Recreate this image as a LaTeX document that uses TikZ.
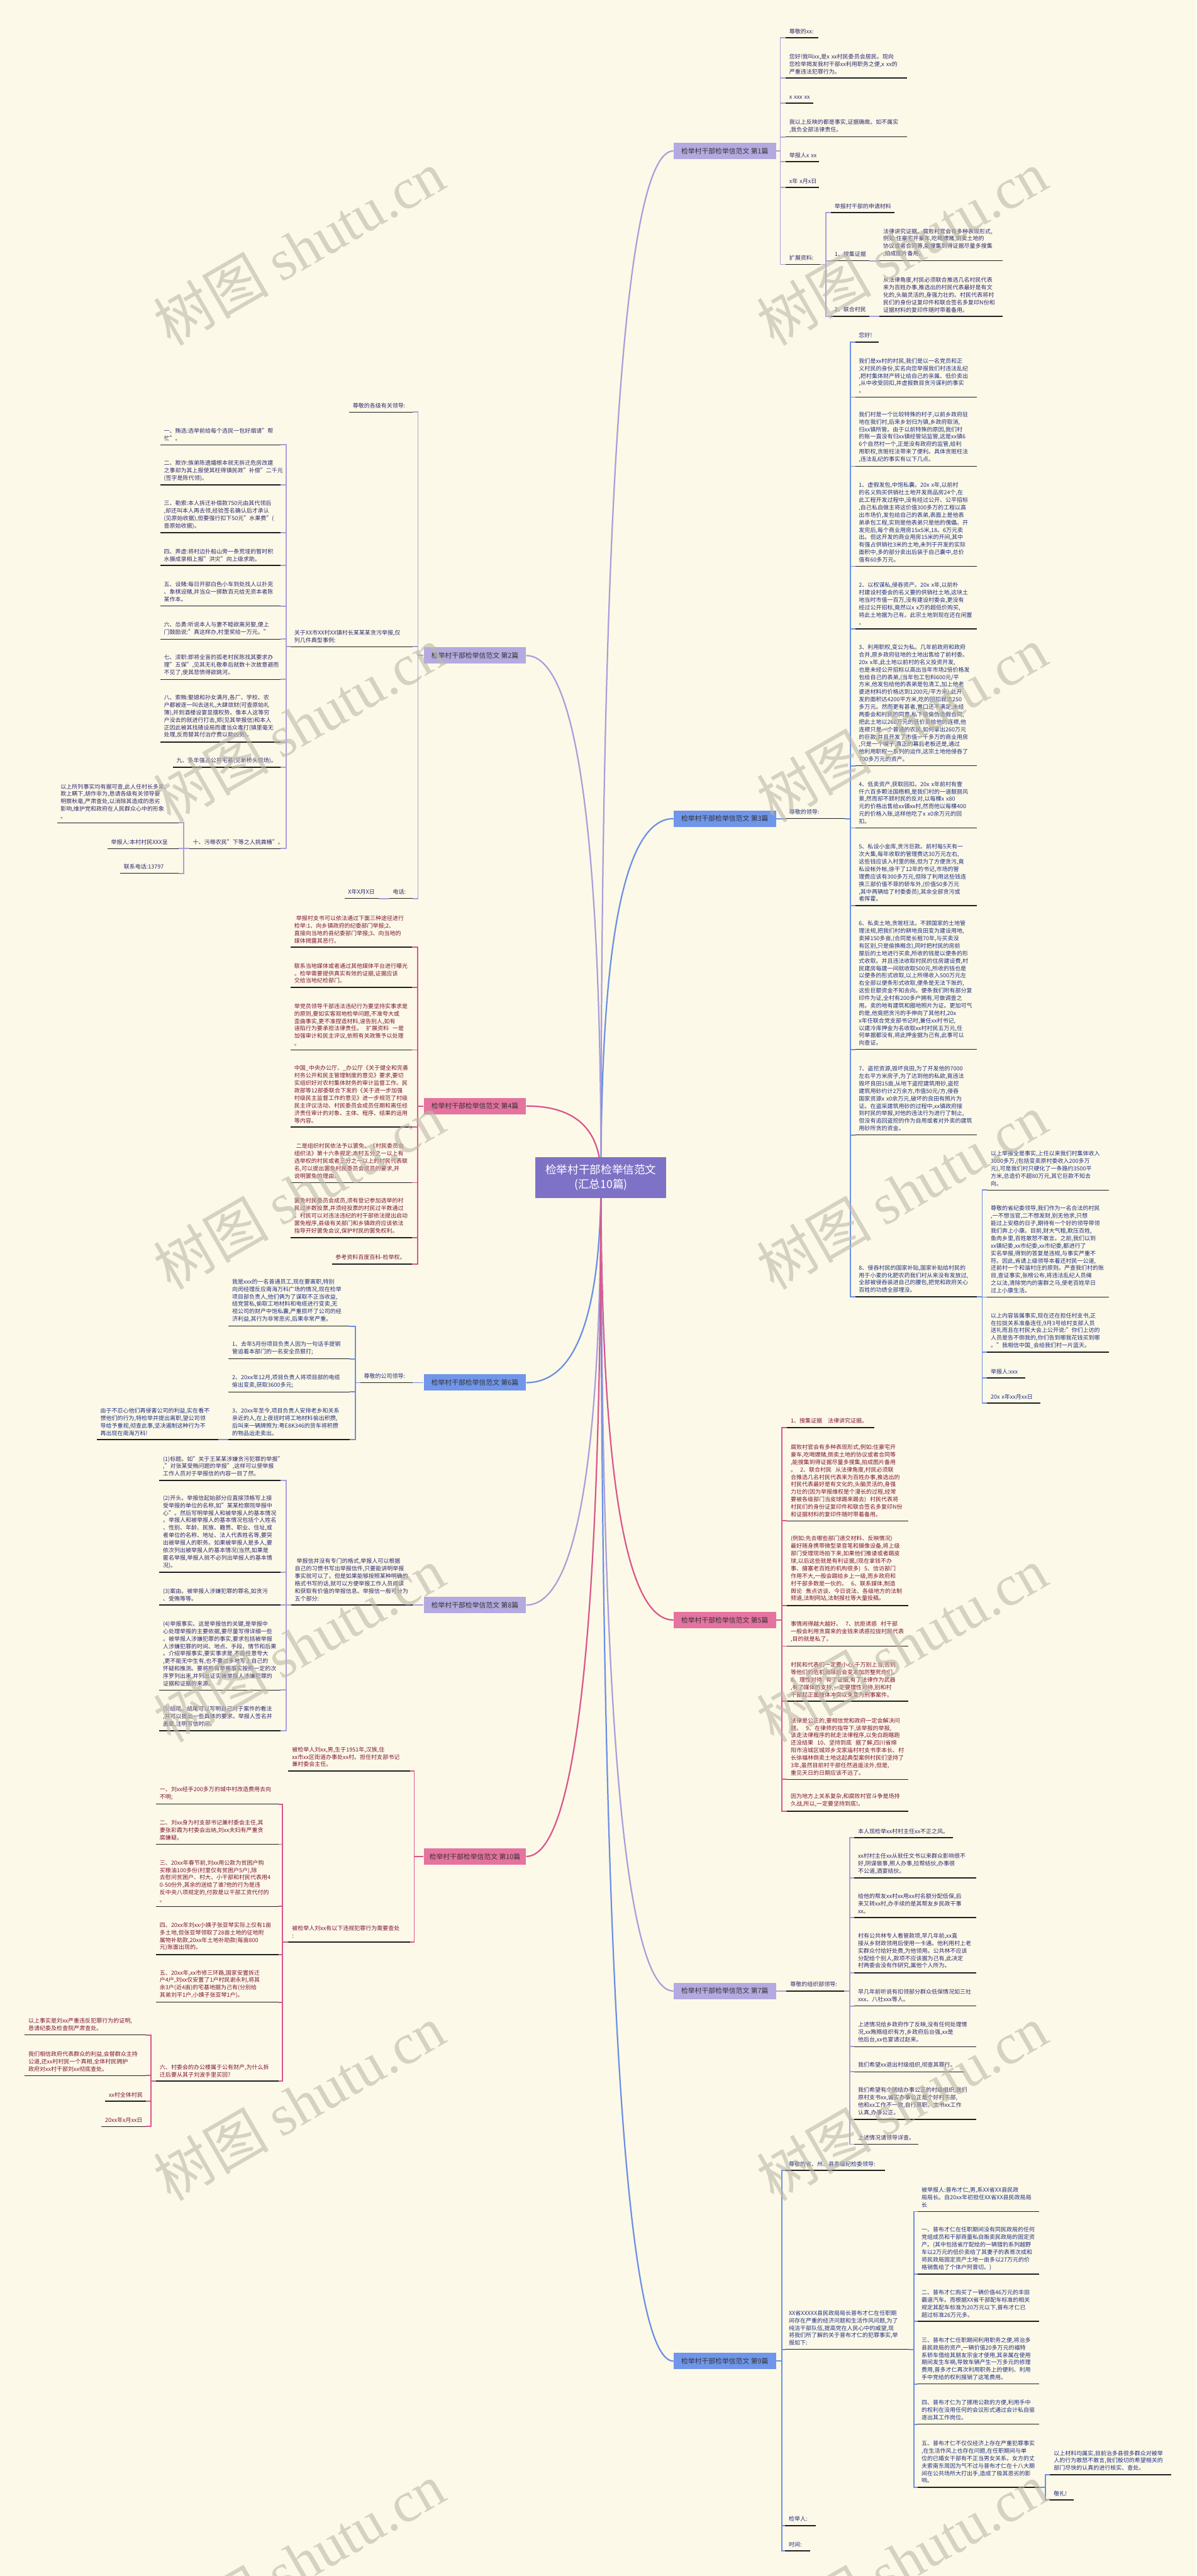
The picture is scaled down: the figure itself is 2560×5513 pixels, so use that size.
\documentclass[tikz,border=0pt]{standalone}
\usepackage{fontspec}
\setmainfont{Noto Sans CJK SC}
\newfontfamily\wmfont{Liberation Serif}
\usetikzlibrary{calc,backgrounds}

\definecolor{bgc}{HTML}{FDF9E8}
\definecolor{cpu}{HTML}{A89EDB}
\definecolor{cbl}{HTML}{6A8FE6}
\definecolor{cpk}{HTML}{D9558C}
\definecolor{fpu}{HTML}{B4AADF}
\definecolor{fbl}{HTML}{7096EA}
\definecolor{fpk}{HTML}{E5739F}
\definecolor{tpu}{HTML}{2E2A72}
\definecolor{tbl}{HTML}{1E3182}
\definecolor{tpk}{HTML}{7E1538}
\definecolor{ulc}{HTML}{1E1E1E}
\definecolor{hubc}{HTML}{7E72C6}
\definecolor{wmc}{HTML}{BDB8A8}

\tikzset{
  leaf/.style={anchor=south west, inner xsep=0.15cm, inner ysep=0.16cm, align=left,
    font=\fontsize{6.9pt}{9.1pt}\selectfont,
    append after command={(\tikzlastnode.south west) edge[uline] (\tikzlastnode.south east)}},
  uline/.style={draw=ulc, line width=0.04cm},
  lpu/.style={text=tpu}, lbl/.style={text=tbl}, lpk/.style={text=tpk},
  bpu/.style={draw=cpu, line width=0.05cm},
  bbl/.style={draw=cbl, line width=0.05cm},
  bpk/.style={draw=cpk, line width=0.05cm},
  lab/.style={minimum width=4.38cm, minimum height=0.7cm, inner sep=0pt,
    font=\fontsize{8.3pt}{10pt}\selectfont, text=black!80},
  labR/.style={lab, anchor=west}, labL/.style={lab, anchor=east},
  hubbox/.style={fill=hubc, text=white, minimum width=5.6cm, minimum height=1.76cm,
    align=center, font=\fontsize{13.5pt}{17pt}\selectfont},
  twig/.style={line width=0.06cm},
  wmark/.style={rotate=30, text=wmc, opacity=0.6, font=\fontsize{70pt}{72pt}\selectfont}
}

% leaf: style, name, x start, underline y, x end, text
\newcommand\lf[6]{\pgfmathsetmacro\lfw{(#5-#3)*0.02-0.3}%
  \node[leaf,#1,text width=\lfw cm] (#2) at (#3,#4) {#6};}
\newcommand\busR[4]{\foreach \kid in {#4}{\draw[#1] (#2) -- ++(#3,0) |- (\kid.south west);}}
\newcommand\busL[4]{\foreach \kid in {#4}{\draw[#1] (#2) -- ++(-#3,0) |- (\kid.south east);}}
\newcommand\twig[2]{\draw[twig,#1] (hub.center) .. controls ($(hub.center)!0.667!(hub.center|-#2)$)
  and ($(#2)!0.667!(hub.center|-#2)$) .. (#2);}

\begin{document}
\begin{tikzpicture}[x=0.02cm, y=-0.02cm]
  \useasboundingbox (0,0) rectangle (2560,5513);
  \begin{scope}[on background layer]
    \fill[bgc] (0,0) rectangle (2560,5513);
  \end{scope}

  % Center
  \node[hubbox] (hub) at (1286,2520) {检举村干部检举信范文\\(汇总10篇)};

  % Labels
  \node[labR, fill=fpu] (L1) at (1441,323) {检举村干部检举信范文 第1篇};
  \node[labL, fill=fpu] (L2) at (1126,1403) {检举村干部检举信范文 第2篇};
  \node[labR, fill=fbl] (L3) at (1441,1752) {检举村干部检举信范文 第3篇};
  \node[labL, fill=fpk] (L4) at (1126,2367) {检举村干部检举信范文 第4篇};
  \node[labR, fill=fpk] (L5) at (1441,3467) {检举村干部检举信范文 第5篇};
  \node[labL, fill=fbl] (L6) at (1126,2959) {检举村干部检举信范文 第6篇};
  \node[labR, fill=fpu] (L7) at (1441,4261) {检举村干部检举信范文 第7篇};
  \node[labL, fill=fpu] (L8) at (1126,3435) {检举村干部检举信范文 第8篇};
  \node[labR, fill=fbl] (L9) at (1441,5053) {检举村干部检举信范文 第9篇};
  \node[labL, fill=fpk] (L10) at (1126,3973) {检举村干部检举信范文 第10篇};

  \begin{scope}[on background layer]
    \twig{cpu}{L1.west} \twig{cbl}{L3.west} \twig{cpk}{L5.west}
    \twig{cpu}{L7.west} \twig{cbl}{L9.west}
    \twig{cpu}{L2.east} \twig{cpk}{L4.east} \twig{cbl}{L6.east}
    \twig{cpu}{L8.east} \twig{cpk}{L10.east}
  \end{scope}

  % Branch 1
  \lf{lpu}{a1}{1681}{81}{1750}{尊敬的xx:}
  \lf{lpu}{a2}{1681}{167}{1940}{您好!我叫xx,是x~xx村民委员会居民。现向\\您检举揭发我村干部xx利用职务之便,x~xx的\\严重违法犯罪行为。}
  \lf{lpu}{a3}{1681}{221}{1739}{x~xxx~xx}
  \lf{lpu}{a4}{1681}{293}{1940}{我以上反映的都是事实,证据确凿。如不属实\\,我负全部法律责任。}
  \lf{lpu}{a5}{1681}{346}{1752}{举报人x~xx}
  \lf{lpu}{a6}{1681}{401}{1752}{x年~x月x日}
  \lf{lpu}{a7}{1681}{566}{1754}{扩展资料:}
  \busR{bpu}{L1.east}{9}{a1,a2,a3,a4,a5,a6,a7}
  \lf{lpu}{a8}{1778}{455}{1913}{举报村干部的申请材料}
  \lf{lpu}{a9}{1778}{558}{1859}{1、搜集证据}
  \lf{lpu}{a10}{1778}{677}{1859}{2、联合村民}
  \busR{bpu}{a7.south east}{12}{a8,a9,a10}
  \lf{lpu}{a11}{1882}{558}{2145}{法律讲究证据。腐败村官会有多种表现形式,\\例如:住豪宅开豪车,吃喝嫖赌,倒卖土地的\\协议或者合同等,能搜集到得证据尽量多搜集\\,拍成图片备用。}
  \lf{lpu}{a12}{1882}{677}{2145}{从法律角度,村民必须联合推选几名村民代表\\来为百姓办事,推选出的村民代表最好是有文\\化的,头脑灵活的,身强力壮的。村民代表将村\\民们的身份证复印件和联合签名多复印N份和\\证据材料的复印件随时带着备用。}
  \draw[bpu] (a9.south east) -- (a11.south west);
  \draw[bpu] (a10.south east) -- (a12.south west);

  % Branch 3
  \lf{lbl}{b0}{1681}{1752}{1807}{尊敬的领导:}
  \draw[bbl] (L3.east) -- (b0.south west);
  \lf{lbl}{b1}{1830}{732}{1879}{您好!}
  \lf{lbl}{b2}{1830}{850}{2089}{我们是xx村的村民,我们是以一名党员和正\\义村民的身份,实名向您举报我们村违法乱纪\\,把村集体财产转让给自己的亲属、低价卖出\\,从中收受回扣,并虚报数目贪污谋利的事实\\。}
  \lf{lbl}{b3}{1830}{998}{2089}{我们村是一个比较特殊的村子,以前乡政府驻\\地在我们村,后来乡划归为镇,乡政府取消,\\归xx镇所管。由于以前特殊的原因,我们村\\的账一直没有归xx镇经管站监管,这是xx镇6\\6个自然村一个,正是没有政府的监管,给利\\用职权,贪赃枉法带来了便利。具体贪赃枉法\\,违法乱纪的事实有以下几点。}
  \lf{lbl}{b4}{1830}{1212}{2089}{1、虚假发包,中饱私囊。20x~x年,以前村\\的名义购买供销社土地开发商品房24个,在\\此工程开发过程中,没有经过公开、公平招标\\,自己私自做主将这价值300多万的工程以高\\出市场价,发包给自己的表弟,表面上是他表\\弟承包工程,实则是他表弟只是他的傀儡。开\\发完后,每个商业用房15x5米,18。6万元卖\\出。但这开发的商业用房15米的开间,其中\\有强占供销社3米的土地,未列于开发的实际\\面积中,多的部分卖出后装于自己囊中,总价\\值有60多万元。}
  \lf{lbl}{b5}{1830}{1346}{2089}{2、以权谋私,侵吞资产。20x~x年,以前朴\\村建设村委会的名义要的供销社土地,这块土\\地当时市值一百万,没有建设村委会,更没有\\经过公开招标,竟然以x~x万的超低价购买,\\将此土地据为己有。此宗土地到现在还在闲置\\。}
  \lf{lbl}{b6}{1830}{1639}{2089}{3、利用职权,变公为私。几年前政府和政府\\合并,原乡政府驻地的土地出售给了前村委。\\20x~x年,此土地以前村的名义投资开发,\\也是未经公开招标以高出当年市场2倍价格发\\包给自己的表弟,(当年包工包料600元/平\\方米,他发包给他的表弟是包清工,加上他老\\婆进材料的价格达到1200元/平方米),此开\\发的面积达4200平方米,吃的回扣就达250\\多万元。然而更有甚者,胃口还不满足,未经\\两委会和村民的同意,私下偷偷伪造假合同,\\把此土地以260万元的低价卖给他的连襟,他\\连襟只是一个普通的农民,如何拿出260万元\\的巨款,并且开发了市值一千多万的商业用房\\,只是一个幌子,真正的幕后老板还是,通过\\他利用职权一系列的运作,这宗土地他侵吞了\\700多万元的资产。}
  \lf{lbl}{b7}{1830}{1772}{2089}{4、低卖资产,获取回扣。20x~x年前村有壹\\仟六百多颗法国梧桐,是我们村的一道靓丽风\\景,然而却不顾村民的反对,以每棵x~x80\\元的价格出售给xx镇xx村,然而他以每棵400\\元的价格入账,这样他吃了x~x0余万元的回\\扣。}
  \lf{lbl}{b8}{1830}{1938}{2089}{5、私设小金库,贪污巨款。前村每5天有一\\次大集,每年收取的管理费达30万元左右,\\这些钱应该入村里的账,但为了方便贪污,竟\\私设帐外帐,徐干了12年的书记,市场的管\\理费应该有300多万元,但除了利用这些钱连\\换三部价值不菲的轿车外,(价值50多万元\\,其中两辆给了村委委员),其余全部贪污或\\者挥霍。}
  \lf{lbl}{b9}{1830}{2246}{2089}{6、私卖土地,贪赃枉法。不顾国家的土地管\\理法规,把我们村的耕地良田变为建设用地,\\卖掉150多亩,(合同是长租70年,与买卖没\\有区别,只是偷换概念),同时把村民的房前\\屋后的土地进行买卖,所收的钱是以便条的形\\式收取。并且违法收取村民的住房建设费,村\\民建房每建一间就收取500元,所收的钱也是\\以便条的形式收取,以上所得收入500万元左\\右全部以便条形式收取,便条是无法下账的,\\这些巨额资金不知去向。便条我们附有部分复\\印件为证,全村有200多户拥有,可做调查之\\用。卖的地有建筑和圈地照片为证。更加可气\\的是,他竟把贪污的手伸向了其他村,20x\\x年任联合党支部书记时,兼任xx村书记,\\以建冷库押金为名收取xx村村民五万元,任\\何单据都没有,将此押金据为己有,此事可以\\向查证。}
  \lf{lbl}{b10}{1830}{2429}{2089}{7、盗挖资源,毁坏良田,为了开发他的7000\\左右平方米房子,为了达到他的私欲,竟违法\\毁坏良田15亩,从地下盗挖建筑用砂,盗挖\\建筑用砂约计2万余方,市值50元/方,侵吞\\国家资源x~x0余万元,破坏的良田有照片为\\证。在盗采建筑用砂的过程中,xx镇政府接\\到村民的举报,对他的违法行为进行了制止,\\但没有追回盗挖的作为自用或者对外卖的建筑\\用砂所贪的资金。}
  \lf{lbl}{b11}{1830}{2775}{2089}{8、侵吞村民的国家补贴,国家补贴给村民的\\用于小麦的化肥农药我们村从来没有发放过,\\全部被侵吞装进自己的腰包,把党和政府关心\\百姓的功绩全部埋没。}
  \busR{bbl}{b0.south east}{12}{b1,b2,b3,b4,b5,b6,b7,b8,b9,b10,b11}
  \lf{lbl}{b12}{2112}{2547}{2372}{以上举报全是事实,上任以来我们村集体收入\\3000多万,(包括变卖原村委收入200多万\\元),可是我们村只硬化了一条路约3500平\\方米,总造价不超80万元,其它巨款不知去\\向。}
  \lf{lbl}{b13}{2112}{2776}{2372}{尊敬的省纪委领导,我们作为一名合法的村民\\,一不想当官,二不想发财,别无他求,只想\\能过上安稳的日子,期待有一个好的领导带领\\我们奔上小康。目前,财大气粗,欺压百姓,\\鱼肉乡里,百姓敢怒不敢言。之前,我们以到\\xx镇纪委,xx市纪委,xx市纪委,都进行了\\实名举报,得到的答复是违规,与事实严重不\\符。因此,肯请上级领导本着还村民一公道,\\还前村一个和谐村庄的原则。严查我们村的账\\目,查证事实,张榜公布,将违法乱纪人员绳\\之以法,清除党内的害群之马,使老百姓早日\\过上小康生活。}
  \lf{lbl}{b14}{2112}{2894}{2372}{以上内容皆属事实,现在还在担任村支书,正\\在拉拢关系准备连任,9月3号给村支部人员\\送礼而且在村民大会上公开说:"你们上访的\\人员是告不倒我的,你们告到哪我花钱买到哪\\。"我相信中国\_会给我们村一片蓝天。}
  \lf{lbl}{b15}{2112}{2949}{2193}{举报人:xxx}
  \lf{lbl}{b16}{2112}{3003}{2226}{20x~x年xx月xx日}
  \busR{bbl}{b11.south east}{12}{b12,b13,b14,b15,b16}

  % Branch 5
  \lf{lpk}{c1}{1684}{3055}{1870}{1、搜集证据~~~法律讲究证据。}
  \lf{lpk}{c2}{1684}{3255}{1943}{腐败村官会有多种表现形式,例如:住豪宅开\\豪车,吃喝嫖赌,倒卖土地的协议或者合同等\\,能搜集到得证据尽量多搜集,拍成图片备用\\。~~2、联合村民~~从法律角度,村民必须联\\合推选几名村民代表来为百姓办事,推选出的\\村民代表最好是有文化的,头脑灵活的,身强\\力壮的(因为举报维权是个漫长的过程,经常\\要被各级部门当皮球踢来踢去)~~村民代表将\\村民们的身份证复印件和联合签名多复印N份\\和证据材料的复印件随时带着备用。}
  \lf{lpk}{c3}{1684}{3436}{1943}{(例如:先去哪些部门递交材料、反映情况)\\最好随身携带微型录音笔和摄像设备,将上级\\部门受理现场拍下来,如果他们推诿或者踢皮\\球,以后这些就是有利证据,(现在拿钱不办\\事、搪塞老百姓的机构很多)~~5、信访部门\\作用不大,一般会踢给乡上一级,而乡政府和\\村干部多数是一伙的。~~6、联系媒体,制造\\舆论~~焦点访谈、今日说法、各级地方的法制\\频道,法制网站,法制报社等大量投稿。}
  \lf{lpk}{c4}{1684}{3523}{1943}{事情闹得越大越好。~~7、抗拒诱惑~~村干部\\一般会利用贪腐来的金钱来诱惑拉拢村民代表\\,目的就是私了。}
  \lf{lpk}{c5}{1684}{3641}{1943}{村民和代表们一定要小心,千万别上当,否则\\等他们的危机消除后会变本加厉整死你们。\\8、理性对待~~有了证据,有了法律作为武器\\,有了媒体的支持,一定要理性对待,别和村\\干部起正面肢体冲突以免变为刑事案件。}
  \lf{lpk}{c6}{1684}{3808}{1943}{法律是公正的,要相信党和政府一定会解决问\\题。~~9、在律师的指导下,该举报的举报,\\该走法律程序的就走法律程序,以免白跑瞎跑\\还没结果~~10、坚持到底~~据了解,四川省绵\\阳市涪城区城郊乡戈家庙村村支书李本长、村\\长徐福林倒卖土地这起典型案例村民们坚持了\\3年,虽然目前村干部任然逍遥法外,但是,\\重见天日的日期应该不远了。}
  \lf{lpk}{c7}{1684}{3876}{1943}{因为地方上关系复杂,和腐败村官斗争是场持\\久战,所以,一定要坚持到底!。}
  \busR{bpk}{L5.east}{12}{c1,c2,c3,c4,c5,c6,c7}

  % Branch 7
  \lf{lpu}{d0}{1683}{4261}{1806}{尊敬的组织部领导:}
  \draw[bpu] (L7.east) -- (d0.south west);
  \lf{lpu}{d1}{1828}{3933}{2039}{本人现检举xx村村主任xx不正之风。}
  \lf{lpu}{d2}{1828}{4019}{2088}{xx村村主任xx从就任文书以来群众影响很不\\好,阴谋做事,照人办事,拉帮结伙,办事很\\不公道,酒宴结伙。}
  \lf{lpu}{d3}{1828}{4104}{2088}{给他的帮友xx村xx用xx村名额分配低保,后\\来又转xx村,办手续的是其帮友乡民政干事\\xx。}
  \lf{lpu}{d4}{1828}{4222}{2088}{村有公共林专人看管款项,早几年前,xx直\\接从乡财政领用后使用一卡通。他利用村上老\\实群众付给好处费,为他领用。公共林不应该\\分配给个别人,款项不应该据为己有,此决定\\村两委会没有作研究,属他个人所为。}
  \lf{lpu}{d5}{1828}{4293}{2088}{早几年前听说有扣领部分群众低保情况如三社\\xxx、八社xxx等人。}
  \lf{lpu}{d6}{1828}{4380}{2088}{上述情况给乡政府作了反映,没有任何处理情\\况,xx贿赂组织有方,乡政府后台强,xx是\\他后台,xx也宴请过赵来。}
  \lf{lpu}{d7}{1828}{4434}{2063}{我们希望xx退出村级组织,彻查其罪行。}
  \lf{lpu}{d8}{1828}{4536}{2088}{我们希望有个团结办事公正的村级组织,我们\\原村支书xx,诚实办事公正是个好村干部,\\他和xx工作不一致,自行离职。文书xx工作\\认真,办事公正。}
  \lf{lpu}{d9}{1828}{4589}{1965}{上述情况请领导详查。}
  \busR{bpu}{d0.south east}{12}{d1,d2,d3,d4,d5,d6,d7,d8,d9}

  % Branch 9
  \lf{lbl}{e1}{1680}{4645}{1893}{尊敬的省、州、县各级纪检委领导:}
  \lf{lbl}{e2}{1680}{5028}{1944}{XX省XXXXX县民政局局长普布才仁在任职期\\间存在严重的经济问题和生活作风问题,为了\\纯洁干部队伍,提高党在人民心中的威望,现\\将我们所了解的关于普布才仁的犯罪事实,举\\报如下:}
  \lf{lbl}{e3}{1680}{5405}{1745}{检举人:}
  \lf{lbl}{e4}{1680}{5459}{1733}{时间:}
  \busR{bbl}{L9.east}{12}{e1,e2,e3,e4}
  \lf{lbl}{e5}{1964}{4733}{2223}{被举报人:普布才仁,男,系XX省XX县民政\\局局长。自20xx年初担任XX省XX县民政局局\\长}
  \lf{lbl}{e6}{1964}{4867}{2223}{一、普布才仁在任职期间没有同民政局的任何\\党组成员和干部商量私自贩卖民政局的固定资\\产。(其中包括省厅配给的一辆猎豹系列越野\\车以2万元的低价卖给了其妻子的表哥次成和\\将民政局固定资产土地一亩多以27万元的价\\格销售给了个体户阿晋切。)}
  \lf{lbl}{e7}{1964}{4968}{2223}{二、普布才仁购买了一辆价值46万元的丰田\\霸道汽车。而根据XX省干部配车标准的相关\\规定其配车标准为20万元以下,普布才仁已\\超过标准26万元多。}
  \lf{lbl}{e8}{1964}{5102}{2223}{三、普布才仁任职期间利用职务之便,将治多\\县民政局的资产,一辆价值20多万元的福特\\系轿车借给其朋友宗金才使用,其亲属在使用\\期间发生车祸,导致车辆产生一万多元的修理\\费用,普多才仁再次利用职务上的便利、利用\\手中党给的权利报销了这笔费用。}
  \lf{lbl}{e9}{1964}{5188}{2223}{四、普布才仁为了挪用公款的方便,利用手中\\的权利在没用任何的会议形式通过会计私自驱\\逐出其工作岗位。}
  \lf{lbl}{e10}{1964}{5323}{2223}{五、普布才仁不仅仅经济上存在严重犯罪事实\\,在生活作风上也存在问题,在任职期间与单\\位的已婚女干部有不正当男女关系。女方的丈\\夫索南东周因为气不过与普布才仁在十八大期\\间在公共场所大打出手,造成了极其恶劣的影\\响。}
  \busR{bbl}{e2.south east}{11}{e5,e6,e7,e8,e9,e10}
  \lf{lbl}{e11}{2247}{5296}{2506}{以上材料均属实,目前治多县很多群众对被举\\人的行为敢怒不敢言,我们殷切的希望相关的\\部门尽快的认真的进行核实、查处。}
  \lf{lbl}{e12}{2247}{5350}{2297}{敬礼!}
  \busR{bbl}{e10.south east}{13}{e11,e12}

  % Branch 2
  \lf{lpu}{f1}{747}{882}{882}{尊敬的各级有关领导:}
  \lf{lpu}{f2}{622}{1384}{882}{关于XX市XX村XX镇村长某某某贪污举报,仅\\列几件典型事例:}
  \lf{lpu}{f3}{833}{1923}{882}{电话:}
  \busL{bpu}{L2.west}{12}{f1,f2,f3}
  \lf{lpu}{f17}{737}{1923}{809}{X年X月X日}
  \draw[bpu] (f3.south west) -- (f17.south east);
  \lf{lpu}{f4}{343}{952}{600}{一、贿选:选举前给每个选民一包好烟请"帮\\忙"。}
  \lf{lpu}{f5}{343}{1038}{600}{二、欺诈:族弟陈遗孀根本就无拆迁危房改建\\之事却为其上报使其枉得镇民政"补偿"二千元\\(签字是陈代领)。}
  \lf{lpu}{f6}{343}{1140}{600}{三、勒索:本人拆迁补偿款750元由其代领后\\,却还叫本人再去领,经验签名确认后才承认\\(见原始收据),但要强行扣下50元"水果费"(\\查原始收据)。}
  \lf{lpu}{f7}{343}{1210}{600}{四、弄虚:将村边扑船山旁一条荒垭的暂时积\\水摄成录相上报"洪灾"向上级求助。}
  \lf{lpu}{f8}{343}{1297}{600}{五、设赌:每日开部白色小车到处找人以扑克\\、象棋设赌,并当众一掷数百元给无资本者陈\\某作本。}
  \lf{lpu}{f9}{343}{1368}{600}{六、怂勇:听说本人与妻不睦欲离另娶,便上\\门鼓励说:"真这样办,村里奖给一万元。"}
  \lf{lpu}{f10}{343}{1454}{600}{七、渎职:即将全盲的孤老村民陈找其要求办\\理"五保",见其无礼敬奉后就数十次故意避而\\不见了,使其悲愤得欲跳河。}
  \lf{lpu}{f11}{343}{1588}{600}{八、索贿:娶媳和孙女满月,各厂、学校、农\\户都被逐一叫去送礼,大肆敛财(可查原始礼\\簿),并到酒楼设宴显摆权势。像本人这等穷\\户没去的就进行打击,郑(见其举报信)和本人\\正因此被其找碴设局而遭当众毒打(镇里毫无\\处理,反而替其付治疗费以助凶势)。}
  \lf{lpu}{f12}{370}{1642}{600}{九、多年强占公共宅基(见新桥头现场)。}
  \lf{lpu}{f13}{405}{1816}{600}{十、污辱农民"下等之人挑粪桶"。}
  \busL{bpu}{f2.south west}{10}{f4,f5,f6,f7,f8,f9,f10,f11,f12,f13}
  \lf{lpu}{f14}{122}{1761}{381}{以上所列事实均有据可查,此人任村长多年,\\欺上瞒下,胡作非为,恳请各级有关领导要\\明察秋毫,严肃查处,以消除其造成的恶劣\\影响,维护党和政府在人民群众心中的形象\\。}
  \lf{lpu}{f15}{230}{1816}{381}{举报人:本村村民XXX呈}
  \lf{lpu}{f16}{257}{1869}{381}{联系电话:13797}
  \busL{bpu}{f13.south west}{12}{f14,f15,f16}

  % Branch 4
  \lf{lpk}{g1}{622}{2027}{881}{~举报村支书可以依法通过下面三种途径进行\\检举:1、向乡镇政府的纪委部门举报;2、\\直接向当地的县纪委部门举报;3、向当地的\\媒体揭露其恶行。}
  \lf{lpk}{g2}{622}{2113}{881}{联系当地媒体或者通过其他媒体平台进行曝光\\。检举需要提供真实有效的证据,证据应该\\交给当地纪检部门。}
  \lf{lpk}{g3}{622}{2247}{881}{举党员领导干部违法违纪行为要坚持实事求是\\的原则,要如实客观地检举问题,不准夸大或\\歪曲事实,更不准捏造材料,诬告别人,如有\\诬陷行为要承担法律责任。~~扩展资料~~一是\\加强审计和民主评议,依照有关政策予以处理\\。}
  \lf{lpk}{g4}{622}{2412}{881}{中国\_中央办公厅、\_办公厅《关于健全和完善\\村务公开和民主管理制度的意见》要求,要切\\实组织好对农村集体财务的审计监督工作。民\\政部等12部委联合下发的《关于进一步加强\\村级民主监督工作的意见》进一步规范了村级\\民主评议活动、村民委员会成员任期和离任经\\济责任审计的对象、主体、程序、结果的运用\\等内容。}
  \lf{lpk}{g5}{622}{2531}{881}{~二是组织村民依法予以罢免。《村民委员会\\组织法》第十六条规定:本村五分之一以上有\\选举权的村民或者三分之一以上的村民代表联\\名,可以提出罢免村民委员会成员的要求,并\\说明罢免的理由。}
  \lf{lpk}{g6}{622}{2649}{881}{罢免村民委员会成员,须有登记参加选举的村\\民过半数投票,并须经投票的村民过半数通过\\。村民可以对违法违纪的村干部依法提出启动\\罢免程序,县级有关部门和乡镇政府应该依法\\指导开好罢免会议,保护村民的罢免权利。}
  \lf{lpk}{g7}{710}{2705}{881}{参考资料百度百科-检举权。}
  \busL{bpk}{L4.west}{13}{g1,g2,g3,g4,g5,g6,g7}

  % Branch 6
  \lf{lbl}{h0}{771}{2959}{882}{尊敬的公司领导:}
  \draw[bbl] (L6.west) -- (h0.south east);
  \lf{lbl}{h1}{489}{2838}{748}{我是xxx的一名普通员工,现在要离职,特别\\向闵经理反应南海万科广场的情况,现在检举\\项目部负责人,他们俩为了谋取不正当收益,\\结党营私,偷取工地材料和电缆进行变卖,无\\视公司的财产中饱私囊,严重损坏了公司的经\\济利益,其行为非常恶劣,后果非常严重。}
  \lf{lbl}{h2}{489}{2908}{748}{1、去年5月份项目负责人因为一句话手提钢\\管追着本部门的一名安全员狠打;}
  \lf{lbl}{h3}{489}{2979}{748}{2、20xx年12月,项目负责人将项目部的电缆\\偷出变卖,获取3600多元;}
  \lf{lbl}{h4}{489}{3081}{748}{3、20xx年至今,项目负责人安排老乡和关系\\亲近的人,在上夜班时将工地材料偷出积攒,\\后叫来一辆牌照为:粤E8K346的货车将积攒\\的物品运走卖出。}
  \busL{bbl}{h0.south west}{11}{h1,h2,h3,h4}
  \lf{lbl}{h5}{207}{3081}{466}{由于不忍心他们再侵害公司的利益,实在看不\\惯他们的行为,特检举并提出离职,望公司领\\导给予重视,彻查此事,坚决遏制这种行为不\\再出现在南海万科!}
  \draw[bbl] (h4.south west) -- (h5.south east);

  % Branch 8
  \lf{lpu}{k0}{623}{3435}{882}{~举报信并没有专门的格式,举报人可以根据\\自己的习惯书写出举报信件,只要能讲明举报\\事实就可以了。但是如果能够按照某种明确的\\格式书写的话,就可以方便举报工作人员阅读\\和获取有价值的举报信息。举报信一般可分为\\五个部分:}
  \draw[bpu] (L8.west) -- (k0.south east);
  \lf{lpu}{k1}{341}{3168}{599}{(1)标题。如"关于王某某涉嫌贪污犯罪的举报"\\,"对张某受贿问题的举报",这样可以使举报\\工作人员对于举报信的内容一目了然。}
  \lf{lpu}{k2}{341}{3365}{599}{(2)开头。举报信起始部分应直接顶格写上接\\受举报的单位的名称,如"某某检察院举报中\\心"。然后写明举报人和被举报人的基本情况\\。举报人和被举报人的基本情况包括个人姓名\\、性别、年龄、民族、籍贯、职业、住址,或\\者单位的名称、地址、法人代表姓名等,要突\\出被举报人的职务。如果被举报人是多人,要\\依次列出被举报人的基本情况(当然,如果是\\匿名举报,举报人就不必列出举报人的基本情\\况)。}
  \lf{lpu}{k3}{341}{3435}{599}{(3)案由。被举报人涉嫌犯罪的罪名,如贪污\\、受贿等等。}
  \lf{lpu}{k4}{341}{3617}{599}{(4)举报事实。这是举报信的关键,是举报中\\心处理举报的主要依据,要尽量写得详细一些\\。被举报人涉嫌犯罪的事实,要求包括被举报\\人涉嫌犯罪的时间、地点、手段、情节和后果\\。介绍举报事实,要实事求是,不能任意夸大\\,更不能无中生有,也不要过多地写上自己的\\怀疑和推测。要将所有举报事实按照一定的次\\序罗列出来,并列出证实被举报人涉嫌犯罪的\\证据和证据的来源。}
  \lf{lpu}{k5}{341}{3704}{599}{(5)结尾。结尾可以写明自己对于案件的看法\\,并可以提出一些具体的要求。举报人签名并\\盖章,注明写信时间。}
  \busL{bpu}{k0.south west}{11}{k1,k2,k3,k4,k5}

  % Branch 10
  \lf{lpk}{m1}{617}{3790}{877}{被检举人刘xx,男,生于1951年,汉族,住\\xx市xx区街道办事处xx村。担任村支部书记\\兼村委会主任。}
  \lf{lpk}{m2}{617}{4156}{877}{被检举人刘xx有以下违规犯罪行为需要查处\\:}
  \busL{bpk}{L10.west}{20}{m1,m2}
  \lf{lpk}{m3}{334}{3861}{595}{一、刘xx经手200多万的城中村改造费用去向\\不明;}
  \lf{lpk}{m4}{334}{3947}{595}{二、刘xx身为村支部书记兼村委会主任,其\\妻张彩霞为村委会出纳,刘xx夫妇有严重贪\\腐嫌疑。}
  \lf{lpk}{m5}{334}{4080}{595}{三、20xx年春节前,刘xx用公款为贫困户购\\买粮油100多份(村里仅有贫困户5户),除\\去慰问贫困户、村大、小干部和村民代表用4\\0-50份外,其余的送给了谁?他的行为是违\\反中央八项规定的,付款是以干部工资代付的\\。}
  \lf{lpk}{m6}{334}{4183}{595}{四、20xx年刘xx小姨子张亚琴实际上仅有1亩\\多土地,但张亚琴领取了28亩土地的征地附\\属物补助款,20xx年土地补助款(每亩800\\元)账面出现的。}
  \lf{lpk}{m7}{334}{4285}{595}{五、20xx年,xx市修三环路,国家安置拆迁\\户4户,刘xx仅安置了1户村民谢永利,将其\\余3户(近4亩)的宅基地据为己有(分别给\\其弟刘平1户,小姨子张亚琴1户)。}
  \lf{lpk}{m8}{334}{4454}{595}{六、村委会的办公楼属于公有财产,为什么拆\\迁后要从其子刘波手里买回?}
  \busL{bpk}{m2.south west}{13}{m3,m4,m5,m6,m7,m8}
  \lf{lpk}{m9}{53}{4355}{311}{以上事实是刘xx严重违反犯罪行为的证明,\\恳请纪委及检查院严肃查处。}
  \lf{lpk}{m10}{53}{4442}{311}{我们相信政府代表群众的利益,会替群众主持\\公道,还xx村村民一个真相,全体村民拥护\\政府对xx村干部刘xx彻底查处。}
  \lf{lpk}{m11}{225}{4497}{311}{xx村全体村民}
  \lf{lpk}{m12}{217}{4551}{311}{20xx年x月xx日}
  \busL{bpk}{m8.south west}{11}{m9,m10,m11,m12}

  % Watermark
  \foreach \wx in {640,1930} {
    \foreach \wy in {530,1550,2550,3520,4500,5480} {
      \node[wmark] (wm-\wx-\wy) at (\wx,\wy) {树图 {\wmfont shutu.cn}};
    }
  }
\end{tikzpicture}
\end{document}
